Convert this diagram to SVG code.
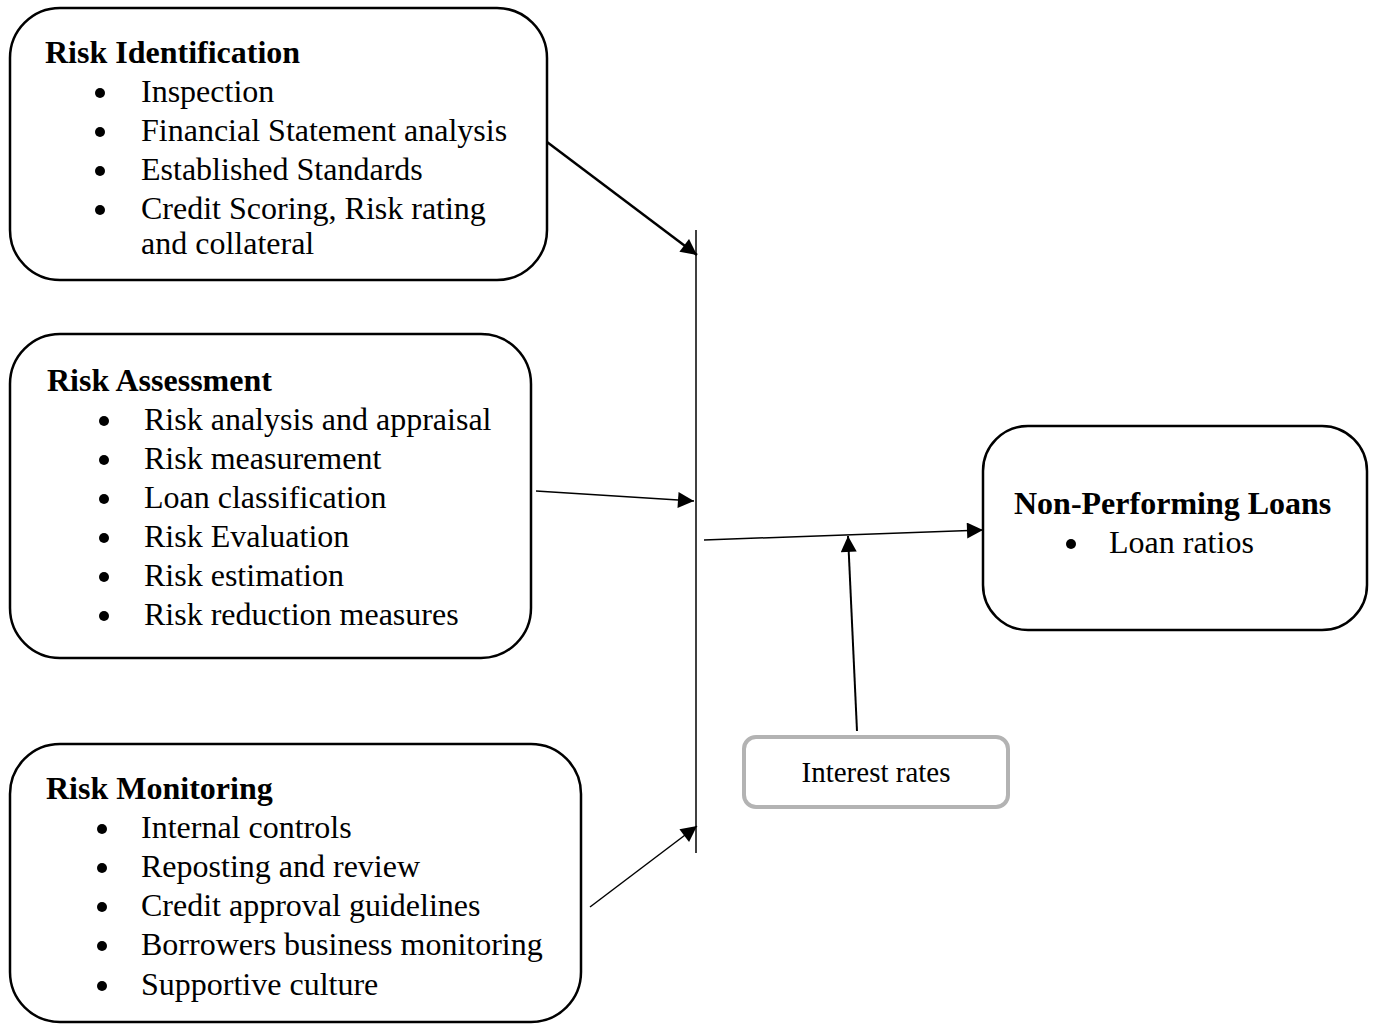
<svg xmlns="http://www.w3.org/2000/svg" width="1376" height="1024" viewBox="0 0 1376 1024">
<style>
.box{fill:#fff;stroke:#000;stroke-width:2.5}
.ir{fill:#fff;stroke:#b3b3b3;stroke-width:4}
text{font-family:"Liberation Serif","Times New Roman",serif;font-size:32px;fill:#000}
.t{font-weight:bold}
.ir-t{font-size:29px}
.c{stroke:#000;fill:none}
.b{fill:#000}
</style>
<defs>
<marker id="ah2" viewBox="0 0 10 10" refX="10" refY="5" markerWidth="18" markerHeight="16" markerUnits="userSpaceOnUse" orient="auto">
<path d="M0,0 L10,5 L0,10 z" fill="#000"/>
</marker>
</defs>
<g id="risk-identification">
<rect class="box" x="10" y="8" width="537" height="272" rx="50"/>
<text class="t" x="45" y="63">Risk Identification</text>
<circle class="b" cx="100" cy="93" r="5"/><text x="141" y="102">Inspection</text>
<circle class="b" cx="100" cy="132" r="5"/><text x="141" y="141">Financial Statement analysis</text>
<circle class="b" cx="100" cy="171" r="5"/><text x="141" y="180">Established Standards</text>
<circle class="b" cx="100" cy="210" r="5"/><text x="141" y="219">Credit Scoring, Risk rating</text>
<text x="141" y="254">and collateral</text>
</g>
<g id="risk-assessment">
<rect class="box" x="10" y="334" width="521" height="324" rx="50"/>
<text class="t" x="47" y="391">Risk Assessment</text>
<circle class="b" cx="104" cy="421" r="5"/><text x="144" y="430">Risk analysis and appraisal</text>
<circle class="b" cx="104" cy="460" r="5"/><text x="144" y="469">Risk measurement</text>
<circle class="b" cx="104" cy="499" r="5"/><text x="144" y="508">Loan classification</text>
<circle class="b" cx="104" cy="538" r="5"/><text x="144" y="547">Risk Evaluation</text>
<circle class="b" cx="104" cy="577" r="5"/><text x="144" y="586">Risk estimation</text>
<circle class="b" cx="104" cy="616" r="5"/><text x="144" y="625">Risk reduction measures</text>
</g>
<g id="risk-monitoring">
<rect class="box" x="10" y="744" width="571" height="278" rx="50"/>
<text class="t" x="46" y="799">Risk Monitoring</text>
<circle class="b" cx="102" cy="829" r="5"/><text x="141" y="838">Internal controls</text>
<circle class="b" cx="102" cy="868" r="5"/><text x="141" y="877">Reposting and review</text>
<circle class="b" cx="102" cy="907" r="5"/><text x="141" y="916">Credit approval guidelines</text>
<circle class="b" cx="102" cy="946" r="5"/><text x="141" y="955">Borrowers business monitoring</text>
<circle class="b" cx="102" cy="986" r="5"/><text x="141" y="995">Supportive culture</text>
</g>
<g id="non-performing-loans">
<rect class="box" x="983" y="426" width="384" height="204" rx="45"/>
<text class="t" x="1014" y="514">Non-Performing Loans</text>
<circle class="b" cx="1071" cy="544" r="5"/><text x="1109" y="553">Loan ratios</text>
</g>
<g id="interest-rates">
<rect class="ir" x="744" y="737" width="264" height="70" rx="12"/>
<text class="ir-t" x="876" y="782" text-anchor="middle">Interest rates</text>
</g>
<g id="connectors">
<line class="c" x1="696" y1="230" x2="696" y2="853" stroke-width="1.5"/>
<line class="c" x1="547" y1="142" x2="697" y2="255" stroke-width="2.5" marker-end="url(#ah2)"/>
<line class="c" x1="536" y1="491" x2="694" y2="501" stroke-width="1.5" marker-end="url(#ah2)"/>
<line class="c" x1="590" y1="907" x2="697" y2="826" stroke-width="1.5" marker-end="url(#ah2)"/>
<line class="c" x1="704" y1="540" x2="983" y2="530" stroke-width="1.5" marker-end="url(#ah2)"/>
<line class="c" x1="857" y1="731" x2="848" y2="536" stroke-width="2" marker-end="url(#ah2)"/>
</g>
</svg>
